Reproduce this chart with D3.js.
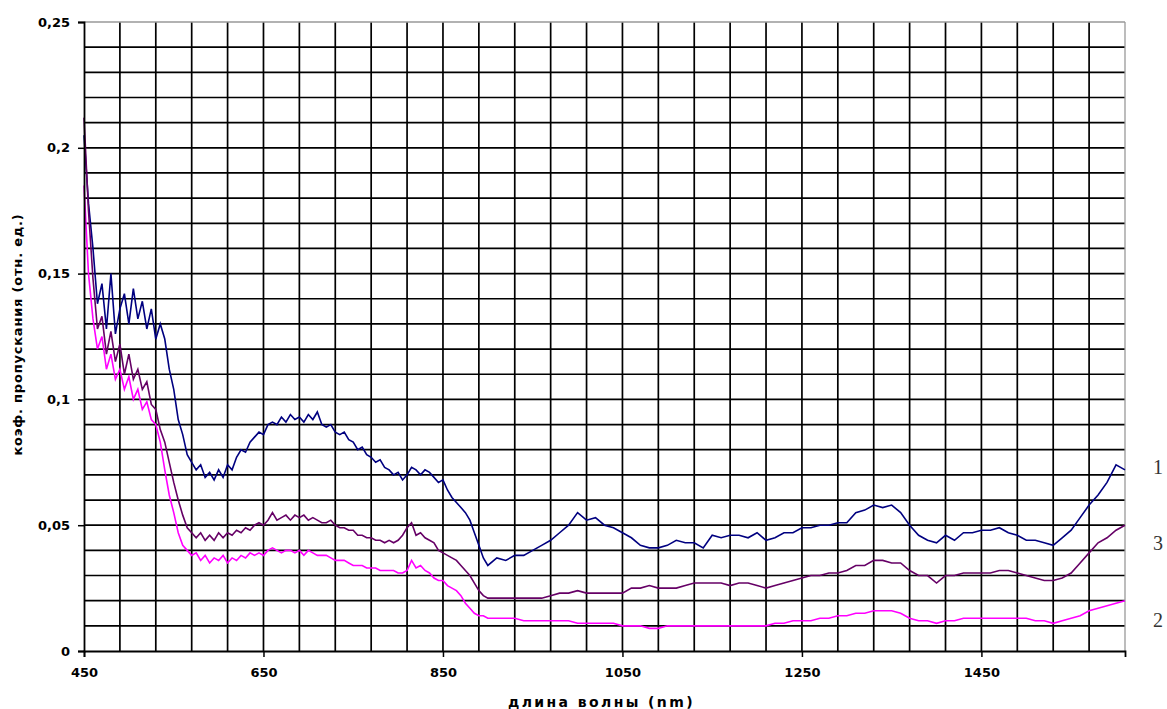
<!DOCTYPE html>
<html>
<head>
<meta charset="utf-8">
<script src="https://cdn.jsdelivr.net/npm/d3@7"></script>
<style>
  html, body { margin: 0; padding: 0; background: #fff; }
  svg { display: block; }
</style>
</head>
<body>
<svg id="chart" width="1167" height="709"></svg>
<script>
// Wavelength grid (nm): 5 nm steps up to 895 nm, then 10 nm steps to 1610 nm
const wavelengths = [...d3.range(450, 900, 5), ...d3.range(900, 1611, 10)];

// Transmission coefficient, sample 1
const series1 = [
  0.205, 0.178, 0.160, 0.138, 0.146, 0.128, 0.150, 0.126, 0.136, 0.142,
  0.130, 0.144, 0.132, 0.139, 0.128, 0.136, 0.124, 0.130, 0.124, 0.112,
  0.104, 0.092, 0.086, 0.078, 0.075, 0.072, 0.074, 0.069, 0.071, 0.068,
  0.072, 0.069, 0.074, 0.072, 0.077, 0.080, 0.079, 0.083, 0.085, 0.087,
  0.086, 0.090, 0.091, 0.090, 0.093, 0.091, 0.094, 0.092, 0.093, 0.091,
  0.094, 0.092, 0.095, 0.090, 0.089, 0.090, 0.087, 0.086, 0.087, 0.084,
  0.083, 0.080, 0.081, 0.078, 0.077, 0.075, 0.076, 0.073, 0.072, 0.070,
  0.071, 0.068, 0.070, 0.073, 0.072, 0.070, 0.072, 0.071, 0.069, 0.067,
  0.068, 0.064, 0.061, 0.059, 0.057, 0.055, 0.052, 0.047, 0.042, 0.037,
  0.034, 0.037, 0.036, 0.038, 0.038, 0.040, 0.042, 0.044, 0.047, 0.050,
  0.055, 0.052, 0.053, 0.050, 0.049, 0.047, 0.045, 0.042, 0.041, 0.041,
  0.042, 0.044, 0.043, 0.043, 0.041, 0.046, 0.045, 0.046, 0.046, 0.045,
  0.047, 0.044, 0.045, 0.047, 0.047, 0.049, 0.049, 0.050, 0.050, 0.051,
  0.051, 0.055, 0.056, 0.058, 0.057, 0.058, 0.055, 0.050, 0.046, 0.044,
  0.043, 0.046, 0.044, 0.047, 0.047, 0.048, 0.048, 0.049, 0.047, 0.046,
  0.044, 0.044, 0.043, 0.042, 0.045, 0.048, 0.053, 0.058, 0.062, 0.067,
  0.074, 0.072
];

// Transmission coefficient, sample 2
const series2 = [
  0.185, 0.150, 0.132, 0.120, 0.125, 0.112, 0.118, 0.108, 0.112, 0.104,
  0.109, 0.100, 0.104, 0.096, 0.099, 0.092, 0.090, 0.083, 0.072, 0.062,
  0.055, 0.047, 0.042, 0.040, 0.038, 0.039, 0.036, 0.038, 0.035, 0.037,
  0.036, 0.038, 0.035, 0.037, 0.036, 0.038, 0.037, 0.039, 0.038, 0.039,
  0.038, 0.040, 0.041, 0.040, 0.039, 0.040, 0.040, 0.039, 0.040, 0.038,
  0.040, 0.039, 0.038, 0.038, 0.038, 0.037, 0.036, 0.036, 0.036, 0.035,
  0.034, 0.034, 0.034, 0.033, 0.033, 0.033, 0.032, 0.032, 0.032, 0.032,
  0.031, 0.031, 0.032, 0.036, 0.033, 0.034, 0.032, 0.031, 0.029, 0.028,
  0.028, 0.026, 0.025, 0.024, 0.022, 0.019, 0.017, 0.015, 0.014, 0.014,
  0.013, 0.013, 0.013, 0.013, 0.012, 0.012, 0.012, 0.012, 0.012, 0.012,
  0.011, 0.011, 0.011, 0.011, 0.011, 0.010, 0.010, 0.010, 0.009, 0.009,
  0.010, 0.010, 0.010, 0.010, 0.010, 0.010, 0.010, 0.010, 0.010, 0.010,
  0.010, 0.010, 0.011, 0.011, 0.012, 0.012, 0.012, 0.013, 0.013, 0.014,
  0.014, 0.015, 0.015, 0.016, 0.016, 0.016, 0.015, 0.013, 0.012, 0.012,
  0.011, 0.012, 0.012, 0.013, 0.013, 0.013, 0.013, 0.013, 0.013, 0.013,
  0.013, 0.012, 0.012, 0.011, 0.012, 0.013, 0.014, 0.016, 0.017, 0.018,
  0.019, 0.020
];

// Transmission coefficient, sample 3
const series3 = [
  0.212, 0.175, 0.148, 0.128, 0.133, 0.118, 0.127, 0.115, 0.122, 0.110,
  0.118, 0.108, 0.112, 0.104, 0.107, 0.098, 0.096, 0.088, 0.083, 0.075,
  0.067, 0.060, 0.054, 0.049, 0.047, 0.045, 0.047, 0.044, 0.046, 0.044,
  0.047, 0.045, 0.047, 0.046, 0.048, 0.047, 0.049, 0.048, 0.050, 0.051,
  0.050, 0.052, 0.055, 0.052, 0.053, 0.054, 0.052, 0.054, 0.053, 0.054,
  0.052, 0.053, 0.052, 0.051, 0.051, 0.052, 0.050, 0.049, 0.049, 0.048,
  0.048, 0.046, 0.046, 0.045, 0.045, 0.044, 0.044, 0.043, 0.044, 0.043,
  0.044, 0.046, 0.049, 0.051, 0.046, 0.047, 0.045, 0.044, 0.043, 0.040,
  0.039, 0.038, 0.037, 0.036, 0.034, 0.032, 0.030, 0.027, 0.024, 0.022,
  0.021, 0.021, 0.021, 0.021, 0.021, 0.021, 0.021, 0.022, 0.023, 0.023,
  0.024, 0.023, 0.023, 0.023, 0.023, 0.023, 0.025, 0.025, 0.026, 0.025,
  0.025, 0.025, 0.026, 0.027, 0.027, 0.027, 0.027, 0.026, 0.027, 0.027,
  0.026, 0.025, 0.026, 0.027, 0.028, 0.029, 0.030, 0.030, 0.031, 0.031,
  0.032, 0.034, 0.034, 0.036, 0.036, 0.035, 0.035, 0.032, 0.030, 0.030,
  0.027, 0.030, 0.030, 0.031, 0.031, 0.031, 0.031, 0.032, 0.032, 0.031,
  0.030, 0.029, 0.028, 0.028, 0.029, 0.031, 0.035, 0.039, 0.043, 0.045,
  0.048, 0.050
];

const seriesNames = ["1", "2", "3"];
const seriesColors = ["#000080", "#ff00ff", "#660066"];
const seriesValues = [series1, series2, series3];

const yTicks = [0, 0.05, 0.1, 0.15, 0.2, 0.25];
const xTicks = [450, 650, 850, 1050, 1250, 1450];
const xGrid = d3.range(490, 1610, 40);
const yGridHundredths = d3.range(1, 25);

const svg = d3.select("#chart");
const plotLeft = 84, plotRight = 1125, plotTop = 22, plotBottom = 651;

const x = d3.scaleLinear().domain([450, 1610]).range([plotLeft, plotRight]);
const y = d3.scaleLinear().domain([0, 0.25]).range([plotBottom, plotTop]);

const ruLocale = d3.formatLocale({ decimal: ",", thousands: " ", grouping: [3], currency: ["", ""] });
const yFmt = ruLocale.format(".2~f");

// Grid
const grid = svg.append("g");
grid.selectAll("line.v").data(xGrid).join("line")
  .attr("class", "v")
  .attr("x1", d => x(d)).attr("x2", d => x(d))
  .attr("y1", plotTop).attr("y2", plotBottom)
  .attr("stroke", "#000").attr("stroke-width", 1.7);
grid.selectAll("line.h").data(yGridHundredths).join("line")
  .attr("class", "h")
  .attr("x1", plotLeft).attr("x2", plotRight)
  .attr("y1", d => y(d / 100)).attr("y2", d => y(d / 100))
  .attr("stroke", "#000").attr("stroke-width", 1.7);

// Plot frame: grey top and right edges
svg.append("line").attr("x1", plotLeft).attr("x2", plotRight).attr("y1", plotTop).attr("y2", plotTop)
  .attr("stroke", "#999").attr("stroke-width", 1.3);
svg.append("line").attr("x1", plotRight).attr("x2", plotRight).attr("y1", plotTop).attr("y2", plotBottom)
  .attr("stroke", "#999").attr("stroke-width", 1.3);

// Series lines (drawn in series order 1, 2, 3)
const line = d3.line().x((d, i) => x(wavelengths[i])).y(d => y(d));
seriesValues.forEach((vals, k) => {
  svg.append("path").datum(vals)
    .attr("fill", "none")
    .attr("stroke", seriesColors[k])
    .attr("stroke-width", 1.6)
    .attr("stroke-linejoin", "miter")
    .attr("d", line);
});

// Axes
const tickFont = "DejaVu Sans, sans-serif";
const yAxis = svg.append("g").attr("transform", `translate(${plotLeft},0)`)
  .call(d3.axisLeft(y).tickValues(yTicks).tickFormat(yFmt).tickSize(6).tickPadding(8));
const xAxis = svg.append("g").attr("transform", `translate(0,${plotBottom})`)
  .call(d3.axisBottom(x).tickValues(xTicks).tickFormat(d3.format("d")).tickSize(6).tickPadding(11));
[yAxis, xAxis].forEach(g => {
  g.select(".domain").attr("stroke", "#000").attr("stroke-width", 1.8);
  g.selectAll(".tick line").attr("stroke", "#000").attr("stroke-width", 1.5);
  g.selectAll(".tick text")
    .attr("fill", "#000")
    .style("font-family", tickFont)
    .style("font-weight", "bold")
    .style("font-size", "13px");
});

// Axis titles
svg.append("text")
  .attr("transform", `translate(22,${(plotTop + plotBottom) / 2 - 2}) rotate(-90)`)
  .attr("text-anchor", "middle")
  .style("font-family", tickFont).style("font-weight", "bold").style("font-size", "13px")
  .style("letter-spacing", "0.8px")
  .text("коэф. пропускания (отн. ед.)");

svg.append("text")
  .attr("x", (plotLeft + plotRight) / 2 - 3).attr("y", 707)
  .attr("text-anchor", "middle")
  .style("font-family", tickFont).style("font-weight", "bold").style("font-size", "14px")
  .style("letter-spacing", "2.4px")
  .text("длина волны (nm)");

// Curve labels at the right end of each series
seriesValues.forEach((vals, k) => {
  const endY = [467, 620, 543][k];
  svg.append("text")
    .attr("x", 1158).attr("y", endY)
    .attr("dy", "0.35em")
    .attr("text-anchor", "middle")
    .attr("fill", "#333")
    .style("font-family", "Liberation Serif, serif")
    .style("font-size", "20px")
    .text(seriesNames[k]);
});
</script>
</body>
</html>
